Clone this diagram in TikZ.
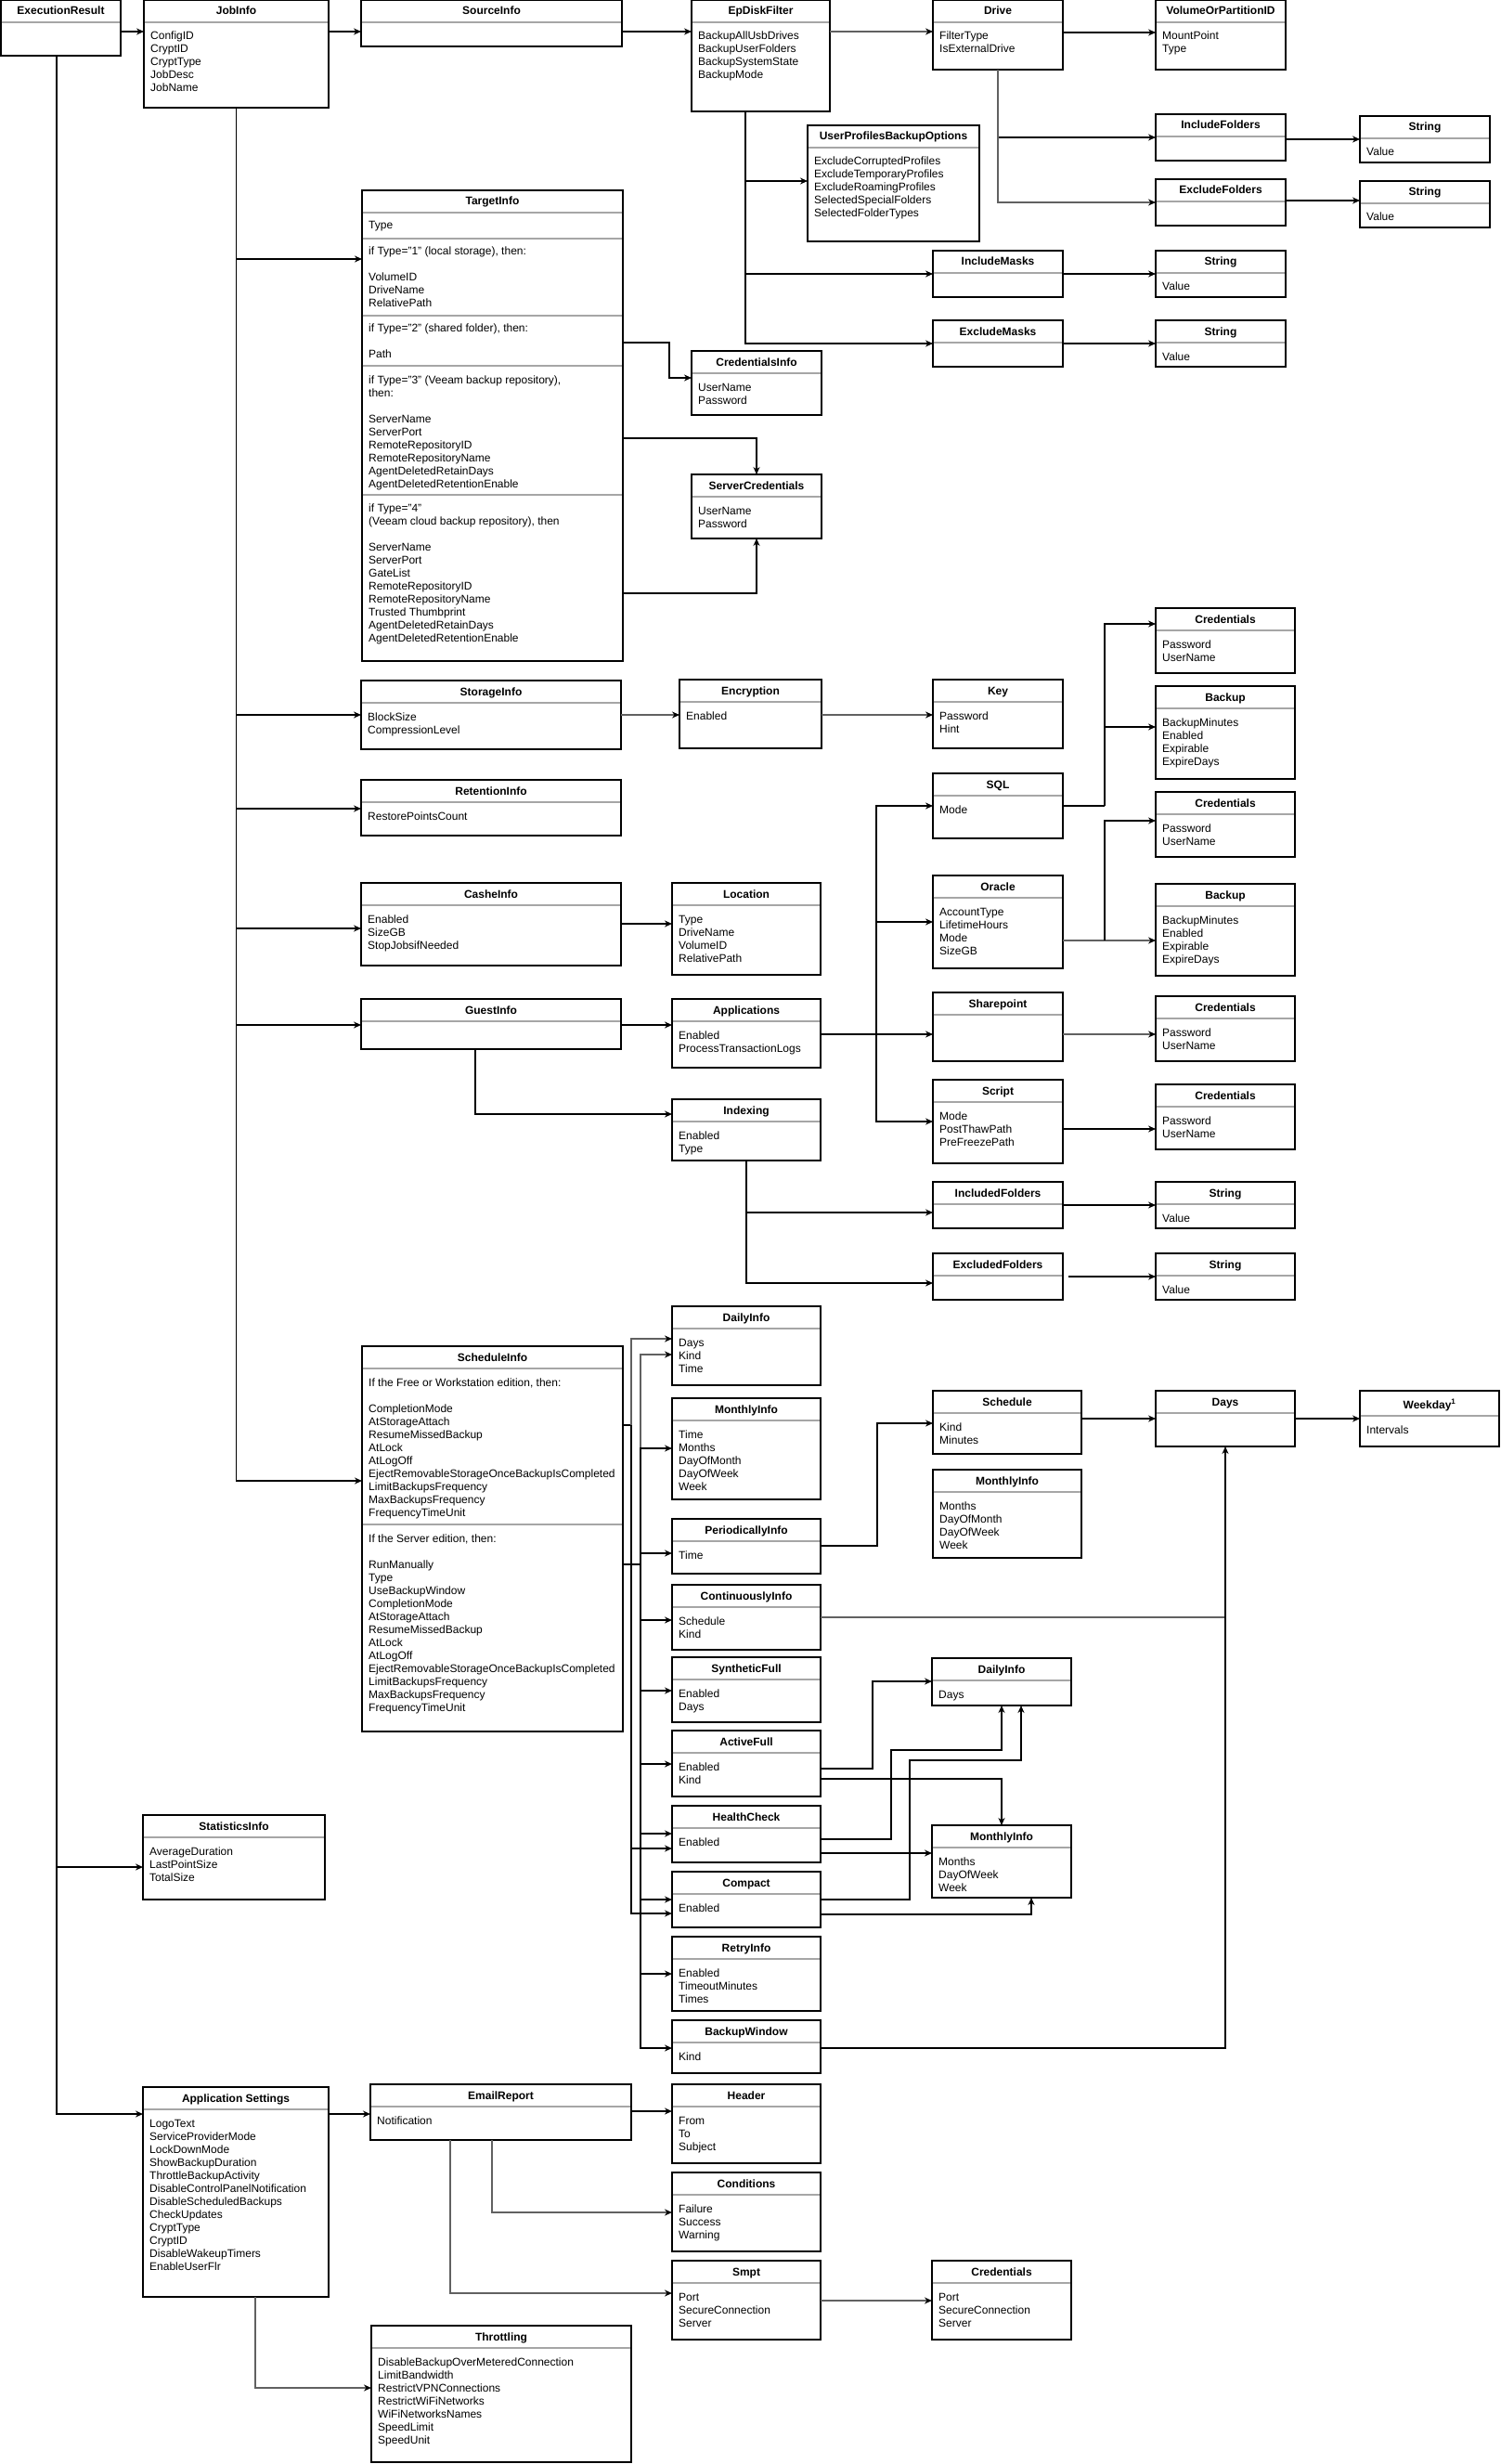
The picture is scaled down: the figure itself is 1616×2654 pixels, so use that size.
\documentclass[tikz,border=0pt]{standalone}
\usepackage{fontspec}
\setmainfont{Liberation Sans}
\usetikzlibrary{calc,arrows.meta}
\newcommand\lines[1]{\begin{tabular}[t]{@{}l@{}}#1\end{tabular}}
\tikzset{
  boxst/.style={draw=black, line width=1.3pt, fill=white, inner sep=0pt, outer sep=0pt, rectangle, anchor=north west},
  sepst/.style={draw=black!35, line width=1.2pt},
  titlest/.style={font=\bfseries\fontsize{12}{14}\selectfont, inner sep=0pt, anchor=base},
  bodyst/.style={font=\fontsize{12}{14}\selectfont, inner sep=0pt, anchor=base west},
  arr/.style={draw=black, line width=1.2pt, -{Stealth[length=8pt,width=7pt]}},
  garr/.style={draw=black!62, line width=2pt, -{Stealth[length=8pt,width=7pt,color=black]}},
  ln/.style={draw=black, line width=1.2pt},
  gln/.style={draw=black!62, line width=2pt},
}
% name, x1, y1, x2, y2, title, body
\newcommand\ubox[7]{%
  \node[boxst, minimum width={#4-#2}, minimum height={#5-#3}] (#1) at (#2,#3) {};
  \node[titlest] (#1-t) at ($(#1.north)+(0,16)$) {#6};
  \draw[sepst] ($(#1.north west)+(0.7,24)$) -- ($(#1.north east)+(-0.7,24)$);
  \node[bodyst] (#1-b) at ($(#1.north west)+(7,43)$) {\lines{#7}};
}
\begin{document}
\begin{tikzpicture}[x=1pt,y=-1pt]
\fill[white] (0,0) rectangle (1616,2654);
\useasboundingbox (0,0) rectangle (1616,2654);

% ---------------- boxes ----------------
\ubox{exec}{1}{0}{130}{60}{ExecutionResult}{}
\ubox{job}{155}{0}{354}{116}{JobInfo}{ConfigID\\CryptID\\CryptType\\JobDesc\\JobName}
\ubox{src}{389}{0}{670}{50}{SourceInfo}{}
\ubox{epd}{745}{0}{894}{120}{EpDiskFilter}{BackupAllUsbDrives\\BackupUserFolders\\BackupSystemState\\BackupMode}
\ubox{drive}{1005}{0}{1145}{75}{Drive}{FilterType\\IsExternalDrive}
\ubox{vol}{1245}{0}{1385}{75}{VolumeOrPartitionID}{MountPoint\\Type}
\ubox{incf}{1245}{123}{1385}{173}{IncludeFolders}{}
\ubox{strA}{1465}{125}{1605}{175}{String}{Value}
\ubox{excf}{1245}{193}{1385}{243}{ExcludeFolders}{}
\ubox{strB}{1465}{195}{1605}{245}{String}{Value}
\ubox{upbo}{870}{135}{1055}{260}{UserProfilesBackupOptions}{ExcludeCorruptedProfiles\\ExcludeTemporaryProfiles\\ExcludeRoamingProfiles\\SelectedSpecialFolders\\SelectedFolderTypes}
\ubox{incm}{1005}{270}{1145}{320}{IncludeMasks}{}
\ubox{strC}{1245}{270}{1385}{320}{String}{Value}
\ubox{excm}{1005}{345}{1145}{395}{ExcludeMasks}{}
\ubox{strD}{1245}{345}{1385}{395}{String}{Value}

% TargetInfo
\ubox{target}{390}{205}{671}{712}{TargetInfo}{}
\draw[sepst] ($(target.west |- 0,257)+(0.7,0)$) -- ($(target.east |- 0,257)+(-0.7,0)$);
\draw[sepst] ($(target.west |- 0,340)+(0.7,0)$) -- ($(target.east |- 0,340)+(-0.7,0)$);
\draw[sepst] ($(target.west |- 0,394)+(0.7,0)$) -- ($(target.east |- 0,394)+(-0.7,0)$);
\draw[sepst] ($(target.west |- 0,533)+(0.7,0)$) -- ($(target.east |- 0,533)+(-0.7,0)$);
\node[bodyst] (target-b1) at (397,247) {\lines{Type}};
\node[bodyst] (target-b2) at (397,275) {\lines{if Type="1" (local storage), then:\\ \\VolumeID\\DriveName\\RelativePath}};
\node[bodyst] (target-b3) at (397,357) {\lines{if Type="2" (shared folder), then:\\ \\Path}};
\node[bodyst] (target-b4) at (397,413) {\lines{if Type="3" (Veeam backup repository),\\then:\\ \\ServerName\\ServerPort\\RemoteRepositoryID\\RemoteRepositoryName\\AgentDeletedRetainDays\\AgentDeletedRetentionEnable}};
\node[bodyst] (target-b5) at (397,551) {\lines{if Type="4"\\(Veeam cloud backup repository), then\\ \\ServerName\\ServerPort\\GateList\\RemoteRepositoryID\\RemoteRepositoryName\\Trusted Thumbprint\\AgentDeletedRetainDays\\AgentDeletedRetentionEnable}};

\ubox{credinfo}{745}{378}{885}{447}{CredentialsInfo}{UserName\\Password}
\ubox{servcred}{745}{511}{885}{580}{ServerCredentials}{UserName\\Password}

\ubox{storage}{389}{733}{669}{807}{StorageInfo}{BlockSize\\CompressionLevel}
\ubox{encr}{732}{732}{885}{806}{Encryption}{Enabled}
\ubox{key}{1005}{732}{1145}{806}{Key}{Password\\Hint}
\ubox{credA}{1245}{655}{1395}{725}{Credentials}{Password\\UserName}
\ubox{backA}{1245}{739}{1395}{839}{Backup}{BackupMinutes\\Enabled\\Expirable\\ExpireDays}
\ubox{retention}{389}{840}{669}{900}{RetentionInfo}{RestorePointsCount}
\ubox{sql}{1005}{833}{1145}{903}{SQL}{Mode}
\ubox{credB}{1245}{853}{1395}{923}{Credentials}{Password\\UserName}
\ubox{backB}{1245}{952}{1395}{1051}{Backup}{BackupMinutes\\Enabled\\Expirable\\ExpireDays}
\ubox{cashe}{389}{951}{669}{1040}{CasheInfo}{Enabled\\SizeGB\\StopJobsifNeeded}
\ubox{location}{724}{951}{884}{1050}{Location}{Type\\DriveName\\VolumeID\\RelativePath}
\ubox{oracle}{1005}{943}{1145}{1043}{Oracle}{AccountType\\LifetimeHours\\Mode\\SizeGB}
\ubox{guest}{389}{1076}{669}{1130}{GuestInfo}{}
\ubox{apps}{724}{1076}{884}{1150}{Applications}{Enabled\\ProcessTransactionLogs}
\ubox{sharep}{1005}{1069}{1145}{1143}{Sharepoint}{}
\ubox{credC}{1245}{1073}{1395}{1143}{Credentials}{Password\\UserName}
\ubox{indexing}{724}{1184}{884}{1250}{Indexing}{Enabled\\Type}
\ubox{script}{1005}{1163}{1145}{1253}{Script}{Mode\\PostThawPath\\PreFreezePath}
\ubox{credD}{1245}{1168}{1395}{1238}{Credentials}{Password\\UserName}
\ubox{inclf}{1005}{1273}{1145}{1323}{IncludedFolders}{}
\ubox{strE}{1245}{1273}{1395}{1323}{String}{Value}
\ubox{exclf}{1005}{1350}{1145}{1400}{ExcludedFolders}{}
\ubox{strF}{1245}{1350}{1395}{1400}{String}{Value}

% Schedule
\ubox{daily}{724}{1407}{884}{1492}{DailyInfo}{Days\\Kind\\Time}
\ubox{monthly}{724}{1506}{884}{1615}{MonthlyInfo}{Time\\Months\\DayOfMonth\\DayOfWeek\\Week}
\ubox{sched}{390}{1450}{671}{1865}{ScheduleInfo}{}
\draw[sepst] ($(sched.west |- 0,1642)+(0.7,0)$) -- ($(sched.east |- 0,1642)+(-0.7,0)$);
\node[bodyst] (sched-b1) at (397,1493) {\lines{If the Free or Workstation edition, then:\\ \\CompletionMode\\AtStorageAttach\\ResumeMissedBackup\\AtLock\\AtLogOff\\EjectRemovableStorageOnceBackupIsCompleted\\LimitBackupsFrequency\\MaxBackupsFrequency\\FrequencyTimeUnit}};
\node[bodyst] (sched-b2) at (397,1661) {\lines{If the Server edition, then:\\ \\RunManually\\Type\\UseBackupWindow\\CompletionMode\\AtStorageAttach\\ResumeMissedBackup\\AtLock\\AtLogOff\\EjectRemovableStorageOnceBackupIsCompleted\\LimitBackupsFrequency\\MaxBackupsFrequency\\FrequencyTimeUnit}};
\ubox{period}{724}{1636}{884}{1695}{PeriodicallyInfo}{Time}
\ubox{contin}{724}{1707}{884}{1777}{ContinuouslyInfo}{Schedule\\Kind}
\ubox{synth}{724}{1785}{884}{1855}{SyntheticFull}{Enabled\\Days}
\ubox{active}{724}{1864}{884}{1935}{ActiveFull}{Enabled\\Kind}
\ubox{health}{724}{1945}{884}{2006}{HealthCheck}{Enabled}
\ubox{compact}{724}{2016}{884}{2076}{Compact}{Enabled}
\ubox{retry}{724}{2086}{884}{2166}{RetryInfo}{Enabled\\TimeoutMinutes\\Times}
\ubox{bwin}{724}{2176}{884}{2233}{BackupWindow}{Kind}
\ubox{schedule}{1005}{1498}{1165}{1566}{Schedule}{Kind\\Minutes}
\ubox{monthlyB}{1005}{1583}{1165}{1678}{MonthlyInfo}{Months\\DayOfMonth\\DayOfWeek\\Week}
\ubox{days}{1245}{1498}{1395}{1558}{Days}{}
\node[boxst, minimum width=150, minimum height=60] (weekday) at (1465,1498) {};
\node[titlest] (weekday-t) at ($(weekday.north)+(0,19)$) {Weekday\textsuperscript{1}};
\draw[sepst] ($(weekday.north west)+(0.7,27)$) -- ($(weekday.north east)+(-0.7,27)$);
\node[bodyst] (weekday-b) at ($(weekday.north west)+(7,46)$) {\lines{Intervals}};
\ubox{dailyC}{1004}{1786}{1154}{1837}{DailyInfo}{Days}
\ubox{monthlyC}{1004}{1966}{1154}{2044}{MonthlyInfo}{Months\\DayOfWeek\\Week}

% bottom
\ubox{stats}{154}{1955}{350}{2046}{StatisticsInfo}{AverageDuration\\LastPointSize\\TotalSize}
\ubox{appset}{154}{2248}{354}{2474}{Application Settings}{LogoText\\ServiceProviderMode\\LockDownMode\\ShowBackupDuration\\ThrottleBackupActivity\\DisableControlPanelNotification\\DisableScheduledBackups\\CheckUpdates\\CryptType\\CryptID\\DisableWakeupTimers\\EnableUserFlr}
\ubox{email}{399}{2245}{680}{2305}{EmailReport}{Notification}
\ubox{header}{724}{2245}{884}{2330}{Header}{From\\To\\Subject}
\ubox{cond}{724}{2340}{884}{2425}{Conditions}{Failure\\Success\\Warning}
\ubox{smpt}{724}{2435}{884}{2520}{Smpt}{Port\\SecureConnection\\Server}
\ubox{credE}{1004}{2435}{1154}{2520}{Credentials}{Port\\SecureConnection\\Server}
\ubox{throt}{400}{2505}{680}{2652}{Throttling}{DisableBackupOverMeteredConnection\\LimitBandwidth\\RestrictVPNConnections\\RestrictWiFiNetworks\\WiFiNetworksNames\\SpeedLimit\\SpeedUnit}

% ---------------- connectors ----------------
\draw[arr] (exec.east |- 0,34) -- (job.west |- 0,34);
\draw[arr] (job.east |- 0,34) -- (src.west |- 0,34);
\draw[arr] (src.east |- 0,34) -- (epd.west |- 0,34);
\draw[garr] (epd.east |- 0,34) -- (drive.west |- 0,34);
\draw[arr] (drive.east |- 0,35) -- (vol.west |- 0,35);
\draw[arr] (drive.south) |- (incf.west |- 0,148);
\draw[garr] (drive.south) |- (excf.west |- 0,218);
\draw[arr] (incf.east |- 0,150) -- (strA.west |- 0,150);
\draw[arr] (excf.east |- 0,216) -- (strB.west |- 0,216);
\draw[arr] (epd.south -| 803,0) |- (upbo.west |- 0,195);
\draw[arr] (epd.south -| 803,0) |- (incm.west |- 0,295);
\draw[arr] (epd.south -| 803,0) |- (excm.west |- 0,370);
\draw[arr] (incm.east |- 0,295) -- (strC.west |- 0,295);
\draw[arr] (excm.east |- 0,370) -- (strD.west |- 0,370);

% JobInfo bus
\draw[arr] (job.south) |- (target.west |- 0,279);
\draw[arr] (job.south) |- (storage.west |- 0,770);
\draw[arr] (job.south) |- (retention.west |- 0,871);
\draw[arr] (job.south) |- (cashe.west |- 0,1000);
\draw[arr] (job.south) |- (guest.west |- 0,1104);
\draw[arr] (job.south) |- (sched.west |- 0,1595);

% TargetInfo
\draw[arr] (target.east |- 0,369) -| (721,407) -- (credinfo.west |- 0,407);
\draw[arr] (target.east |- 0,472) -| (servcred.north);
\draw[arr] (target.east |- 0,639) -| (servcred.south);

% storage etc.
\draw[garr] (storage.east |- 0,770) -- (encr.west |- 0,770);
\draw[garr] (encr.east |- 0,770) -- (key.west |- 0,770);
\draw[arr] (cashe.east |- 0,995) -- (location.west |- 0,995);
\draw[arr] (guest.east |- 0,1104) -- (apps.west |- 0,1104);
\draw[arr] (guest.south -| 512,0) |- (indexing.west |- 0,1200);

% applications bus
\coordinate (busq) at (944,1114);
\draw[arr] (apps.east |- 0,1114) -- (sharep.west |- 0,1114);
\draw[arr] (busq) |- (sql.west |- 0,868);
\draw[arr] (busq) |- (oracle.west |- 0,993);
\draw[arr] (busq) |- (script.west |- 0,1208);
\coordinate (sqlj) at (1190,868);
\draw[ln] (sql.east |- 0,868) -- (sqlj);
\draw[arr] (sqlj) |- (credA.west |- 0,672);
\draw[arr] (sqlj) |- (backA.west |- 0,783);
\coordinate (orj) at (1190,1013);
\draw[garr] (oracle.east |- 0,1013) -- (backB.west |- 0,1013);
\draw[arr] (orj) |- (credB.west |- 0,884);
\draw[garr] (sharep.east |- 0,1114) -- (credC.west |- 0,1114);
\draw[arr] (script.east |- 0,1216) -- (credD.west |- 0,1216);
\draw[arr] (indexing.south) |- (inclf.west |- 0,1306);
\draw[arr] (indexing.south) |- (exclf.west |- 0,1382);
\draw[arr] (inclf.east |- 0,1298) -- (strE.west |- 0,1298);
\draw[arr] ($(exclf.east |- 0,1375)+(6,0)$) -- (strF.west |- 0,1375);

% schedule buses
\coordinate (busA) at (680,1535);
\coordinate (busB) at (690,1685);
\draw[ln] (sched.east |- 0,1535) -- (busA);
\draw[ln] (sched.east |- 0,1685) -- (busB);
\draw[garr] (busA) |- (daily.west |- 0,1442);
\draw[garr] (busB) |- (daily.west |- 0,1459);
\draw[arr] (busB) |- (monthly.west |- 0,1560);
\draw[arr] (busB) |- (period.west |- 0,1673);
\draw[arr] (busB) |- (contin.west |- 0,1745);
\draw[arr] (busB) |- (synth.west |- 0,1821);
\draw[arr] (busB) |- (active.west |- 0,1900);
\draw[arr] (busB) |- (health.west |- 0,1975);
\draw[arr] (busB) |- (compact.west |- 0,2046);
\draw[arr] (busB) |- (retry.west |- 0,2126);
\draw[arr] (busB) |- (bwin.west |- 0,2206);
\draw[arr] (busA) |- (health.west |- 0,1991);
\draw[arr] (busA) |- (compact.west |- 0,2061);

\draw[arr] (period.east |- 0,1665) -| (945,1533) -- (schedule.west |- 0,1533);
\draw[arr] (schedule.east |- 0,1528) -- (days.west |- 0,1528);
\draw[arr] (days.east |- 0,1528) -- (weekday.west |- 0,1528);
\draw[gln] (contin.east |- 0,1742) -- (days.south |- 0,1742);
\draw[arr] (bwin.east |- 0,2206) -| (days.south);

\draw[arr] (active.east |- 0,1905) -| (940,1811) -- (dailyC.west |- 0,1811);
\draw[arr] (active.east |- 0,1916) -| (monthlyC.north);
\draw[arr] (health.east |- 0,1981) -| (960,1885) -| (dailyC.south);
\draw[arr] (health.east |- 0,1996) -- (monthlyC.west |- 0,1996);
\draw[arr] (compact.east |- 0,2046) -| (980,1896) -| (dailyC.south -| 1100,0);
\draw[arr] (compact.east |- 0,2062) -| (monthlyC.south -| 1111,0);

% ExecutionResult bus
\draw[arr] (exec.south -| 61,0) |- (stats.west |- 0,2011);
\draw[arr] (exec.south -| 61,0) |- (appset.west |- 0,2277);
\draw[arr] (appset.east |- 0,2277) -- (email.west |- 0,2277);
\draw[garr] (appset.south -| 275,0) |- (throt.west |- 0,2572);
\draw[arr] (email.east |- 0,2274) -- (header.west |- 0,2274);
\draw[garr] (email.south -| 530,0) |- (cond.west |- 0,2383);
\draw[garr] (email.south -| 485,0) |- (smpt.west |- 0,2470);
\draw[garr] (smpt.east |- 0,2478) -- (credE.west |- 0,2478);
\end{tikzpicture}
\end{document}
